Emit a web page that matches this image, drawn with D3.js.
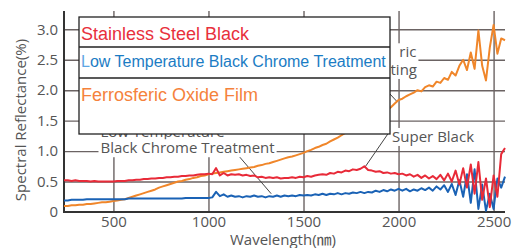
<!DOCTYPE html>
<html>
<head>
<meta charset="utf-8">
<script src="https://cdn.jsdelivr.net/npm/d3@7"></script>
<style>
  body { margin: 0; background: #fff; }
  svg { display: block; }
</style>
</head>
<body>
<div id="chart"></div>
<script>
const WIDTH = 515
const HEIGHT = 248

// wavelength samples (nm), every 20 nm
const wavelengths = d3.range(240, 2561, 20)

// reflectance (%)
const stainless = [
  0.52, 0.52, 0.51, 0.52, 0.51, 0.51, 0.51, 0.50, 0.51, 0.50,
  0.50, 0.50, 0.50, 0.50, 0.51, 0.51, 0.51, 0.52, 0.52, 0.53,
  0.53, 0.54, 0.54, 0.55, 0.55, 0.56, 0.56, 0.57, 0.57, 0.58,
  0.58, 0.59, 0.59, 0.60, 0.60, 0.61, 0.62, 0.62, 0.63, 0.62,
  0.72, 0.60, 0.64, 0.60, 0.62, 0.61, 0.62, 0.60, 0.61, 0.59,
  0.60, 0.57, 0.58, 0.56, 0.57, 0.56, 0.57, 0.55, 0.56, 0.56,
  0.57, 0.56, 0.58, 0.57, 0.59, 0.58, 0.60, 0.61, 0.62, 0.61,
  0.64, 0.63, 0.66, 0.65, 0.68, 0.67, 0.70, 0.69, 0.71, 0.75,
  0.69, 0.68, 0.66, 0.67, 0.64, 0.65, 0.63, 0.64, 0.62, 0.63,
  0.60, 0.62, 0.58, 0.61, 0.56, 0.60, 0.55, 0.59, 0.54, 0.61,
  0.52, 0.63, 0.50, 0.68, 0.45, 0.72, 0.40, 0.78, 0.30, 0.82,
  0.20, 0.55, 0.08, 0.60, 0.25, 0.95, 1.05
]
const chrome = [
  0.19, 0.19, 0.20, 0.20, 0.20, 0.20, 0.21, 0.21, 0.21, 0.21,
  0.21, 0.21, 0.21, 0.21, 0.21, 0.21, 0.21, 0.22, 0.22, 0.22,
  0.22, 0.22, 0.22, 0.22, 0.22, 0.22, 0.22, 0.22, 0.22, 0.22,
  0.22, 0.22, 0.23, 0.23, 0.23, 0.23, 0.23, 0.23, 0.23, 0.24,
  0.33, 0.26, 0.29, 0.25, 0.27, 0.25, 0.26, 0.24, 0.26, 0.25,
  0.27, 0.25, 0.26, 0.24, 0.26, 0.25, 0.27, 0.25, 0.27, 0.26,
  0.27, 0.26, 0.28, 0.27, 0.28, 0.27, 0.29, 0.28, 0.30, 0.28,
  0.30, 0.29, 0.31, 0.29, 0.31, 0.30, 0.32, 0.31, 0.33, 0.31,
  0.33, 0.32, 0.35, 0.33, 0.36, 0.34, 0.37, 0.35, 0.38, 0.35,
  0.38, 0.34, 0.37, 0.35, 0.39, 0.36, 0.40, 0.35, 0.42, 0.37,
  0.44, 0.33, 0.46, 0.28, 0.52, 0.25, 0.62, 0.15, 0.70, 0.05,
  0.45, 0.02, 0.30, 0.05, 0.55, 0.40, 0.58
]
const ferro = [
  0.10, 0.10, 0.11, 0.11, 0.12, 0.12, 0.13, 0.13, 0.14, 0.15,
  0.16, 0.16, 0.17, 0.18, 0.19, 0.20, 0.21, 0.23, 0.25, 0.27,
  0.29, 0.31, 0.33, 0.35, 0.37, 0.40, 0.42, 0.44, 0.46, 0.48,
  0.50, 0.51, 0.53, 0.54, 0.56, 0.57, 0.59, 0.60, 0.62, 0.63,
  0.64, 0.65, 0.66, 0.67, 0.68, 0.69, 0.70, 0.71, 0.72, 0.73,
  0.74, 0.76, 0.77, 0.79, 0.80, 0.82, 0.84, 0.86, 0.88, 0.90,
  0.91, 0.93, 0.95, 0.97, 1.00, 1.02, 1.05, 1.07, 1.10, 1.12,
  1.16, 1.19, 1.22, 1.26, 1.30, 1.33, 1.36, 1.40, 1.43, 1.46,
  1.49, 1.52, 1.56, 1.60, 1.63, 1.67, 1.72, 1.78, 1.84, 1.86,
  1.90, 1.93, 1.96, 2.00, 1.98, 2.05, 2.08, 2.06, 2.14, 2.12,
  2.20, 2.17, 2.30, 2.24, 2.40, 2.50, 2.33, 2.62, 2.35, 2.98,
  2.40, 2.16, 2.70, 3.07, 2.60, 2.85, 2.82
]

const xTicks = [500, 1000, 1500, 2000, 2500]
const yTicks = [0, 0.5, 1, 1.5, 2, 2.5, 3]
const yTickLabels = ['0', '0.5', '1.0', '1.5', '2.0', '2.5', '3.0']
const legendLabels = ['Stainless Steel Black', 'Low Temperature Black Chrome Treatment', 'Ferrosferic Oxide Film']

const GRID = '#6b6363'
const TEXT = '#555'
const FONT = '"Open Sans", "Noto Sans CJK JP", sans-serif'

const svg = d3.select('#chart')
  .append('svg')
  .attr('width', WIDTH)
  .attr('height', HEIGHT)

const x = d3.scaleLinear().domain([240, 2560]).range([64, 505])
const y = d3.scaleLinear().domain([0, 3.3]).range([212, 11])

// grid + tick labels
const gx = svg.append('g')
  .attr('transform', `translate(0,${y(0)})`)
  .call(d3.axisBottom(x).tickValues(xTicks).tickFormat(d3.format('d'))
    .tickSize(-(y(0) - y(3.3))).tickPadding(4))
gx.select('.domain').remove()

const gy = svg.append('g')
  .attr('transform', `translate(${x(240)},0)`)
  .call(d3.axisLeft(y).tickValues(yTicks).tickFormat((d, i) => yTickLabels[i])
    .tickSize(-(x(2560) - x(240))).tickPadding(6))
gy.select('.domain').remove()
gy.selectAll('.tick').filter(d => d === 0).select('line').remove()

svg.selectAll('.tick line').attr('stroke', GRID).attr('stroke-width', 1.4)
svg.selectAll('.tick text')
  .attr('fill', TEXT)
  .style('font-family', FONT)
  .style('font-size', '15px')

// axis lines
svg.append('path')
  .attr('d', `M${x(240)},${y(3.3)}V${y(0)}H${x(2560)}`)
  .attr('fill', 'none')
  .attr('stroke', '#333')
  .attr('stroke-width', 2)

// axis titles
svg.append('text')
  .attr('x', 283).attr('y', 244.5)
  .attr('text-anchor', 'middle')
  .attr('fill', TEXT)
  .style('font-family', FONT).style('font-size', '15px')
  .text('Wavelength(㎚)')

svg.append('text')
  .attr('transform', 'translate(25.5,120) rotate(-90)')
  .attr('text-anchor', 'middle')
  .attr('fill', TEXT)
  .style('font-family', FONT).style('font-size', '15px')
  .text('Spectral Reflectance(%)')

// annotations (text knocks out the grid behind it); the legend box hides
// part of them, only the visible tail of the coating note is drawn
const notes = [
  { text: 'Low Temperature', wl: 432, v: 1.23, anchor: 'start' },
  { text: 'Black Chrome Treatment', wl: 432, v: 0.965, anchor: 'start' },
  { text: 'Super Black', wl: 1966, v: 1.15, anchor: 'start' },
  { text: 'ric', wl: 2094, v: 2.54, anchor: 'end' },
  { text: 'ting', wl: 2097, v: 2.25, anchor: 'end' }
]
const leaders = [
  [[1165, 0.9], [1330, 0.3]],
  [[1950, 1.31], [1822, 0.73]],
  [[1945, 1.97], [1990, 1.82]]
]

const noteG = svg.append('g')
notes.forEach(n => {
  const g = noteG.append('g')
  const bg = g.append('rect').attr('fill', '#fff')
  const t = g.append('text')
    .attr('x', x(n.wl)).attr('y', y(n.v))
    .attr('text-anchor', n.anchor)
    .attr('fill', TEXT)
    .style('font-family', FONT).style('font-size', '15px')
    .text(n.text)
  const b = t.node().getBBox()
  const left = n.anchor === 'end' ? b.x - 30 : b.x - 2
  bg.attr('x', left).attr('y', b.y + 2)
    .attr('width', b.x + b.width + 2 - left).attr('height', b.height - 2)
})

const line = d3.line()
  .x(d => x(d[0]))
  .y(d => y(d[1]))

leaders.forEach(l => {
  svg.append('path')
    .datum(l)
    .attr('d', line)
    .attr('stroke', '#444')
    .attr('stroke-width', 1)
    .attr('fill', 'none')
})

// series
const series = [
  { values: ferro, color: '#f0862a' },
  { values: chrome, color: '#1a62b5' },
  { values: stainless, color: '#e82a38' }
]
series.forEach(s => {
  svg.append('path')
    .datum(wavelengths.map((w, i) => [w, s.values[i]]))
    .attr('d', line)
    .attr('fill', 'none')
    .attr('stroke', s.color)
    .attr('stroke-width', 2)
    .attr('stroke-linejoin', 'round')
})

// legend box
const legend = svg.append('g')
legend.append('rect')
  .attr('x', 79).attr('y', 17)
  .attr('width', 311).attr('height', 117)
  .attr('fill', '#fff')
  .attr('stroke', '#222')
  .attr('stroke-width', 1.3)
;[47, 78].forEach(yy => {
  legend.append('line')
    .attr('x1', 79).attr('x2', 390)
    .attr('y1', yy).attr('y2', yy)
    .attr('stroke', '#222')
    .attr('stroke-width', 1.3)
})
const legendRows = [
  { label: legendLabels[0], color: '#e8303c', size: 18, base: 40 },
  { label: legendLabels[1], color: '#1b7cc4', size: 16, base: 67 },
  { label: legendLabels[2], color: '#f5823c', size: 18, base: 101 }
]
legendRows.forEach((r, i) => {
  const t = legend.append('text')
    .attr('x', 81).attr('y', r.base)
    .attr('fill', r.color)
    .style('font-family', '"Liberation Sans", Arial, sans-serif')
    .style('font-size', `${r.size}px`)
  if (i === 1) {
    t.append('tspan').attr('fill', '#5da6e4').text(r.label[0])
    t.append('tspan').text(r.label.slice(1))
  } else {
    t.text(r.label)
  }
})
</script>
</body>
</html>
